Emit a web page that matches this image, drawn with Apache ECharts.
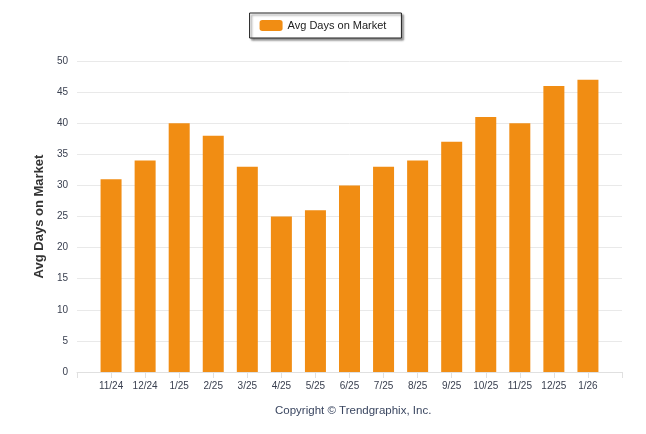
<!DOCTYPE html>
<html><head><meta charset="utf-8">
<script src="https://cdn.jsdelivr.net/npm/echarts@6/dist/echarts.min.js"></script>
<style>html,body{margin:0;padding:0;background:#fff}#c{width:646px;height:434px}</style>
</head><body><div id="c"></div>
<script>
const categories = ['11/24','12/24','1/25','2/25','3/25','4/25','5/25','6/25','7/25','8/25','9/25','10/25','11/25','12/25','1/26'];
const avgDays = [31,34,40,38,33,25,26,30,33,34,37,41,40,46,47];
const yTicks = {min:0, max:50, interval:5};
const font = '"Liberation Sans", Arial, sans-serif';
// padded category slots at both ends (axis padding like the original)
const axisCats = [''].concat(categories, ['']);
const seriesData = [null].concat(avgDays, [null]);
const chart = echarts.init(document.getElementById('c'), null, {renderer:'canvas'});
chart.setOption({
  animation:false,
  textStyle:{fontFamily:font},
  title:{text:'Copyright \u00a9 Trendgraphix, Inc.', left:270, top:400,
    textStyle:{fontSize:11.5, fontWeight:'normal', color:'#3a4660', fontFamily:font}},
  legend:{top:13, left:'center', itemWidth:23, itemHeight:11, itemGap:5,
    padding:[7,15,7,10], borderColor:'#222', borderWidth:1, borderRadius:0,
    backgroundColor:'#fff', shadowColor:'rgba(0,0,0,0.45)', shadowBlur:2, shadowOffsetX:2, shadowOffsetY:2,
    itemStyle:{borderWidth:0},
    textStyle:{fontSize:11, color:'#222', fontFamily:font}},
  grid:{left:77, right:24, top:61, bottom:62},
  xAxis:{type:'category', data:axisCats, boundaryGap:false,
    axisLine:{show:true, lineStyle:{color:'#e0e0e0'}},
    axisTick:{show:true, interval:0, length:6, lineStyle:{color:'#e0e0e0'}},
    axisLabel:{interval:0, fontSize:10, color:'#3a4050', margin:9}},
  yAxis:{type:'value', min:yTicks.min, max:yTicks.max, interval:yTicks.interval,
    name:'Avg Days on Market', nameLocation:'middle', nameGap:31,
    nameTextStyle:{fontSize:13, fontWeight:'bold', color:'#333', fontFamily:font},
    axisLine:{show:false}, axisTick:{show:false},
    splitLine:{lineStyle:{color:'#e9e9e9'}},
    axisLabel:{fontSize:10, color:'#3a4050', margin:9}},
  series:[{name:'Avg Days on Market', type:'bar', data:seriesData, barWidth:21,
    itemStyle:{color:'#F18D13'}}]
});
</script></body></html>
